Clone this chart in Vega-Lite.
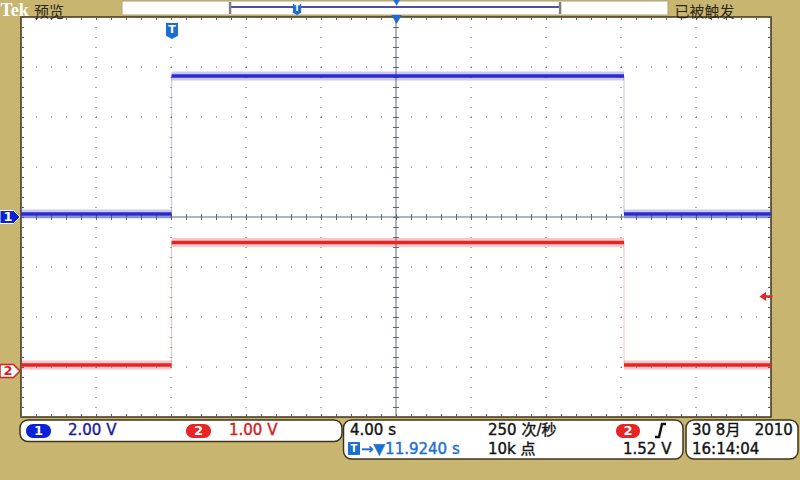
{
  "$schema": "https://vega.github.io/schema/vega-lite/v6.json",
  "width": 750,
  "height": 400,
  "autosize": {"type": "none"},
  "padding": {"left": 21, "top": 17, "right": 29, "bottom": 63},
  "background": "#C8B670",
  "config": {"view": {"fill": "white", "stroke": "#40341a", "strokeWidth": 1.5}, "text": {"font": "DejaVu Sans, Noto Sans CJK SC"}},
  "datasets": {
    "vgrid": [{"x": 4, "y": 4, "y2": -4}, {"x": 8, "y": 4, "y2": -4}, {"x": 12, "y": 4, "y2": -4}, {"x": 16, "y": 4, "y2": -4}, {"x": 24, "y": 4, "y2": -4}, {"x": 28, "y": 4, "y2": -4}, {"x": 32, "y": 4, "y2": -4}, {"x": 36, "y": 4, "y2": -4}],
    "hgrid": [{"y": 3, "x": 0, "x2": 40}, {"y": 2, "x": 0, "x2": 40}, {"y": 1, "x": 0, "x2": 40}, {"y": -1, "x": 0, "x2": 40}, {"y": -2, "x": 0, "x2": 40}, {"y": -3, "x": 0, "x2": 40}],
    "crossV": [{"x": 20, "y": 4, "y2": -4}],
    "crossH": [{"y": 0, "x": 0, "x2": 40}],
    "borderH": [{"y": 3.97, "x": 0, "x2": 40}, {"y": -3.97, "x": 0, "x2": 40}],
    "borderV": [{"x": 0.08, "y": 4, "y2": -4}, {"x": 39.92, "y": 4, "y2": -4}],
    "segs": [
      {"ch": "1", "x": 0, "x2": 8.03, "y": 0.06},
      {"ch": "1", "x": 8.03, "x2": 32.16, "y": 2.82},
      {"ch": "1", "x": 32.16, "x2": 40, "y": 0.06},
      {"ch": "2", "x": 0, "x2": 8.03, "y": -2.96},
      {"ch": "2", "x": 8.03, "x2": 32.16, "y": -0.51},
      {"ch": "2", "x": 32.16, "x2": 40, "y": -2.96}
    ],
    "edges": [
      {"ch": "1", "x": 8.03, "y": 0.06, "y2": 2.82},
      {"ch": "1", "x": 32.16, "y": 0.06, "y2": 2.82},
      {"ch": "2", "x": 8.03, "y": -2.96, "y2": -0.51},
      {"ch": "2", "x": 32.16, "y": -2.96, "y2": -0.51}
    ],
    "hbar": [{"x": 5.387, "x2": 34.507, "y": 4.32, "y2": 4.04}],
    "hline": [{"x": 11.15, "x2": 28.75, "y": 4.2}],
    "brackets": [{"x": 11.15, "y": 4.3, "y2": 4.06}, {"x": 28.75, "y": 4.3, "y2": 4.06}],
    "shieldBig": [{"x": 8.053, "y": 3.72, "label": "T"}],
    "shieldSmall": [{"x": 14.72, "y": 4.15, "label": "T"}],
    "triBig": [{"x": 20.03, "y": 3.95}],
    "triSmall": [{"x": 20.03, "y": 4.29}],
    "boxes": [
      {"x": -0.053, "x2": 17.12, "y": -4.06, "y2": -4.49},
      {"x": 17.2, "x2": 35.307, "y": -4.06, "y2": -4.84},
      {"x": 35.467, "x2": 41.44, "y": -4.06, "y2": -4.84}
    ],
    "pillBlue": [{"x": 0.267, "x2": 1.6, "y": -4.14, "y2": -4.42}],
    "pillRed": [{"x": 8.8, "x2": 10.133, "y": -4.14, "y2": -4.42}, {"x": 31.733, "x2": 33.013, "y": -4.14, "y2": -4.42}],
    "tBox": [{"x": 17.44, "x2": 18.08, "y": -4.5, "y2": -4.76}],
    "pillText": [{"x": 0.933, "y": -4.28, "label": "1"}, {"x": 9.467, "y": -4.28, "label": "2"}, {"x": 32.373, "y": -4.28, "label": "2"}],
    "tBoxText": [{"x": 17.76, "y": -4.63, "label": "T"}],
    "blackText": [
      {"x": 17.547, "y": -4.26, "label": "4.00 s"},
      {"x": 24.907, "y": -4.26, "label": "250 次/秒"},
      {"x": 24.907, "y": -4.64, "label": "10k 点"},
      {"x": 32.107, "y": -4.64, "label": "1.52 V"},
      {"x": 35.787, "y": -4.26, "label": "30 8月\u00a0\u00a0 2010"},
      {"x": 35.787, "y": -4.64, "label": "16:14:04"}
    ],
    "navyText": [{"x": 2.507, "y": -4.26, "label": "2.00 V"}],
    "redText": [{"x": 11.093, "y": -4.26, "label": "1.00 V"}],
    "blueText": [{"x": 18.133, "y": -4.64, "label": "→▼11.9240 s"}],
    "slope": [{"x": 33.813, "y": -4.4, "o": 1}, {"x": 34.027, "y": -4.4, "o": 2}, {"x": 34.187, "y": -4.14, "o": 3}, {"x": 34.4, "y": -4.14, "o": 4}],
    "tek": [{"x": -1.1, "y": 4.03, "label": "Tek"}],
    "headCJK": [{"x": 0.693, "y": 4.1, "label": "预览"}, {"x": 34.85, "y": 4.1, "label": "已被触发"}],
    "markBlue": [{"x": -0.587, "y": 0, "label": "1"}],
    "markRed": [{"x": -0.587, "y": -3.08, "label": "2"}],
    "trigArrow": [{"x": 39.733, "y": -1.59}]
  },
  "encoding": {
    "x": {"field": "x", "type": "quantitative", "scale": {"domain": [0, 40], "nice": false, "zero": false}, "axis": null},
    "y": {"field": "y", "type": "quantitative", "scale": {"domain": [-4, 4], "nice": false, "zero": false}, "axis": null}
  },
  "layer": [
    {"data": {"name": "vgrid"}, "mark": {"type": "rule", "stroke": "#5e5e5e", "strokeWidth": 1, "strokeDash": [1, 9]}, "encoding": {"y2": {"field": "y2"}}},
    {"data": {"name": "hgrid"}, "mark": {"type": "rule", "stroke": "#5e5e5e", "strokeWidth": 1, "strokeDash": [1, 14]}, "encoding": {"x2": {"field": "x2"}}},
    {"data": {"name": "crossV"}, "mark": {"type": "rule", "stroke": "#5a6a7a", "strokeWidth": 1}, "encoding": {"y2": {"field": "y2"}}},
    {"data": {"name": "crossH"}, "mark": {"type": "rule", "stroke": "#5a6a7a", "strokeWidth": 1}, "encoding": {"x2": {"field": "x2"}}},
    {"data": {"name": "crossV"}, "mark": {"type": "rule", "stroke": "#5a6a7a", "strokeWidth": 6, "strokeDash": [1, 9]}, "encoding": {"y2": {"field": "y2"}}},
    {"data": {"name": "crossH"}, "mark": {"type": "rule", "stroke": "#5a6a7a", "strokeWidth": 6, "strokeDash": [1, 14]}, "encoding": {"x2": {"field": "x2"}}},
    {"data": {"name": "borderH"}, "mark": {"type": "rule", "stroke": "#5e5e5e", "strokeWidth": 3, "strokeDash": [1, 14]}, "encoding": {"x2": {"field": "x2"}}},
    {"data": {"name": "borderV"}, "mark": {"type": "rule", "stroke": "#5e5e5e", "strokeWidth": 3, "strokeDash": [1, 9]}, "encoding": {"y2": {"field": "y2"}}},
    {"data": {"name": "edges"}, "mark": {"type": "rule", "strokeWidth": 1, "opacity": 0.3}, "encoding": {"y2": {"field": "y2"}, "stroke": {"field": "ch", "type": "nominal", "scale": {"domain": ["1", "2"], "range": ["#2a2ad0", "#e82424"]}, "legend": null}}},
    {"data": {"name": "segs"}, "mark": {"type": "rule", "strokeWidth": 9, "opacity": 0.25}, "encoding": {"x2": {"field": "x2"}, "stroke": {"field": "ch", "type": "nominal", "scale": {"domain": ["1", "2"], "range": ["#2a2ad0", "#e82424"]}, "legend": null}}},
    {"data": {"name": "segs"}, "mark": {"type": "rule", "strokeWidth": 3.5}, "encoding": {"x2": {"field": "x2"}, "stroke": {"field": "ch", "type": "nominal", "scale": {"domain": ["1", "2"], "range": ["#2a2ad0", "#e82424"]}, "legend": null}}},
    {"data": {"name": "hbar"}, "mark": {"type": "rect", "fill": "white", "stroke": "#b0a070", "strokeWidth": 1}, "encoding": {"x2": {"field": "x2"}, "y2": {"field": "y2"}}},
    {"data": {"name": "hline"}, "mark": {"type": "rule", "stroke": "#14147a", "strokeWidth": 1.5}, "encoding": {"x2": {"field": "x2"}}},
    {"data": {"name": "brackets"}, "mark": {"type": "rule", "stroke": "#808080", "strokeWidth": 2.5}, "encoding": {"y2": {"field": "y2"}}},
    {"data": {"name": "shieldBig"}, "mark": {"type": "point", "shape": "M-0.75,-1 L0.75,-1 L0.75,0.6 L0,1 L-0.75,0.6 Z", "size": 256, "filled": true, "fill": "#1a6fd0", "opacity": 1, "strokeWidth": 0}},
    {"data": {"name": "shieldBig"}, "mark": {"type": "text", "color": "white", "fontWeight": "bold", "fontSize": 11, "baseline": "middle", "dy": -1}, "encoding": {"text": {"field": "label"}}},
    {"data": {"name": "shieldSmall"}, "mark": {"type": "point", "shape": "M-0.75,-1 L0.75,-1 L0.75,0.6 L0,1 L-0.75,0.6 Z", "size": 121, "filled": true, "fill": "#1a6fd0", "opacity": 1, "strokeWidth": 0}},
    {"data": {"name": "shieldSmall"}, "mark": {"type": "text", "color": "white", "fontWeight": "bold", "fontSize": 8, "baseline": "middle", "dy": -1}, "encoding": {"text": {"field": "label"}}},
    {"data": {"name": "triBig"}, "mark": {"type": "point", "shape": "triangle-down", "size": 110, "filled": true, "fill": "#1a6fd0", "opacity": 1, "strokeWidth": 0}},
    {"data": {"name": "triSmall"}, "mark": {"type": "point", "shape": "triangle-down", "size": 55, "filled": true, "fill": "#1a6fd0", "opacity": 1, "strokeWidth": 0}},
    {"data": {"name": "boxes"}, "mark": {"type": "rect", "fill": "white", "stroke": "#40341a", "strokeWidth": 1.5, "cornerRadius": 8}, "encoding": {"x2": {"field": "x2"}, "y2": {"field": "y2"}}},
    {"data": {"name": "pillBlue"}, "mark": {"type": "rect", "fill": "#0a22d8", "cornerRadius": 7}, "encoding": {"x2": {"field": "x2"}, "y2": {"field": "y2"}}},
    {"data": {"name": "pillRed"}, "mark": {"type": "rect", "fill": "#e82424", "cornerRadius": 7}, "encoding": {"x2": {"field": "x2"}, "y2": {"field": "y2"}}},
    {"data": {"name": "tBox"}, "mark": {"type": "rect", "fill": "#1a6fd0", "cornerRadius": 1}, "encoding": {"x2": {"field": "x2"}, "y2": {"field": "y2"}}},
    {"data": {"name": "pillText"}, "mark": {"type": "text", "color": "white", "fontWeight": "bold", "fontSize": 13, "baseline": "middle"}, "encoding": {"text": {"field": "label"}}},
    {"data": {"name": "tBoxText"}, "mark": {"type": "text", "color": "white", "fontWeight": "bold", "fontSize": 10, "baseline": "middle"}, "encoding": {"text": {"field": "label"}}},
    {"data": {"name": "blackText"}, "mark": {"type": "text", "color": "#141414", "stroke": "#141414", "strokeWidth": 0.4, "fontSize": 15, "align": "left", "baseline": "middle"}, "encoding": {"text": {"field": "label"}}},
    {"data": {"name": "navyText"}, "mark": {"type": "text", "color": "#1c1c96", "stroke": "#1c1c96", "strokeWidth": 0.4, "fontSize": 15, "align": "left", "baseline": "middle"}, "encoding": {"text": {"field": "label"}}},
    {"data": {"name": "redText"}, "mark": {"type": "text", "color": "#d42020", "stroke": "#d42020", "strokeWidth": 0.4, "fontSize": 15, "align": "left", "baseline": "middle"}, "encoding": {"text": {"field": "label"}}},
    {"data": {"name": "blueText"}, "mark": {"type": "text", "color": "#1a6fd0", "stroke": "#1a6fd0", "strokeWidth": 0.4, "fontSize": 15, "align": "left", "baseline": "middle"}, "encoding": {"text": {"field": "label"}}},
    {"data": {"name": "slope"}, "mark": {"type": "line", "stroke": "#141414", "strokeWidth": 2.5}, "encoding": {"order": {"field": "o", "type": "quantitative"}}},
    {"data": {"name": "tek"}, "mark": {"type": "text", "color": "white", "fontWeight": "bold", "fontSize": 18, "align": "left", "baseline": "alphabetic", "font": "Liberation Serif"}, "encoding": {"text": {"field": "label"}}},
    {"data": {"name": "headCJK"}, "mark": {"type": "text", "color": "#2e2616", "fontSize": 15, "align": "left", "baseline": "middle", "font": "Noto Sans CJK SC"}, "encoding": {"text": {"field": "label"}}},
    {"data": {"name": "markBlue"}, "mark": {"type": "point", "shape": "M-1,-0.65 L0.35,-0.65 L1,0 L0.35,0.65 L-1,0.65 Z", "size": 400, "filled": true, "fill": "#0a22d8", "stroke": "white", "strokeWidth": 1, "opacity": 1}},
    {"data": {"name": "markBlue"}, "mark": {"type": "text", "color": "white", "fontWeight": "bold", "fontSize": 13, "baseline": "middle", "dx": -2}, "encoding": {"text": {"field": "label"}}},
    {"data": {"name": "markRed"}, "mark": {"type": "point", "shape": "M-1,-0.65 L0.35,-0.65 L1,0 L0.35,0.65 L-1,0.65 Z", "size": 400, "filled": true, "fill": "white", "stroke": "#d42020", "strokeWidth": 1.5, "opacity": 1}},
    {"data": {"name": "markRed"}, "mark": {"type": "text", "color": "#d42020", "fontWeight": "bold", "fontSize": 13, "baseline": "middle", "dx": -2}, "encoding": {"text": {"field": "label"}}},
    {"data": {"name": "trigArrow"}, "mark": {"type": "point", "shape": "M-1,0 L0,-0.7 L0,-0.2 L1,-0.2 L1,0.2 L0,0.2 L0,0.7 Z", "size": 169, "filled": true, "fill": "#e82424", "opacity": 1, "strokeWidth": 0}}
  ]
}
